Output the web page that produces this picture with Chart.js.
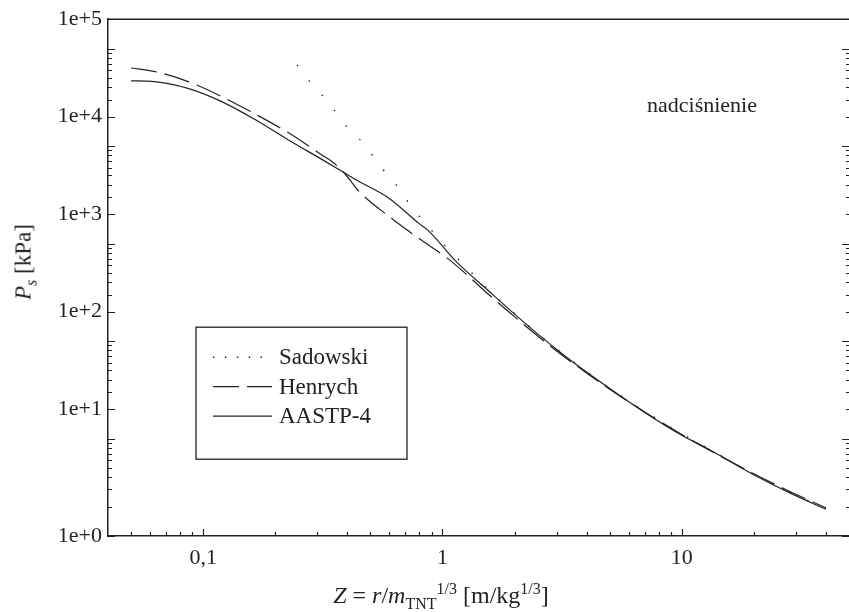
<!DOCTYPE html>
<html>
<head>
<meta charset="utf-8">
<title>Nadciśnienie</title>
<script src="https://cdn.jsdelivr.net/npm/chart.js@4.4.1/dist/chart.umd.min.js"></script>
<style>
  body { margin: 0; background: #fff; }
  #wrap { position: relative; width: 849px; height: 612px; font-family: "Liberation Serif", serif; color: #222; }
  #c { position: absolute; left: 0; top: 0; }
  .ax { position: absolute; white-space: nowrap; line-height: 1; }
  .ax sub, .ax sup { font-size: 16px; line-height: 0; }
  #xTitle { font-size: 24px; left: 441px; top: 595px; transform: translate(-50%, -50%); }
  #yTitle { font-size: 23px; left: 23px; top: 262px; transform: translate(-50%, -50%) rotate(-90deg); }
</style>
</head>
<body>
<div id="wrap">
  <canvas id="c" width="849" height="612"></canvas>
  <div id="xTitle" class="ax"><i>Z</i> = <i>r</i>/<i>m</i><sub>TNT</sub><sup>1/3</sup> [m/kg<sup>1/3</sup>]</div>
  <div id="yTitle" class="ax"><i>P<sub>s</sub></i> [kPa]</div>
</div>
<script>
// Z [m/kg^1/3] -> Ps [kPa]
const aastpZ = [0.05, 0.061, 0.087, 0.12, 0.166, 0.229, 0.313, 0.369, 0.435, 0.597, 0.796, 0.877, 1.136, 1.56, 2.23, 3, 4, 5, 7, 10, 13.3, 20, 28, 40];
const aastpP = [46600, 46000, 38800, 28400, 18500, 11400, 7300, 5750, 4500, 2920, 1610, 1340, 659, 326, 150, 82, 48, 32.5, 18.5, 10.8, 7.5, 4.25, 2.8, 1.88];

const henrychZ = [0.05, 0.064, 0.087, 0.12, 0.166, 0.229, 0.313, 0.345, 0.387, 0.448, 0.597, 0.796, 1.06, 1.3, 1.56, 2.23, 3, 4, 5, 7, 10, 13.3, 20, 28, 40];
const henrychP = [63200, 57500, 45500, 32000, 21100, 13500, 8110, 6930, 5350, 3420, 1900, 1130, 692, 450, 300, 142, 79, 47, 32, 18.7, 11, 7.4, 4.35, 2.9, 1.95];

const sadowskiZ = [0.247, 0.277, 0.313, 0.352, 0.395, 0.448, 0.507, 0.564, 0.638, 0.71, 0.796, 0.893, 1.01, 1.2, 1.56, 2.23, 3, 4, 5, 7, 10, 13.3, 20, 28, 40];
const sadowskiP = [67800, 46600, 33500, 23500, 16100, 11900, 8180, 5750, 4040, 2770, 1940, 1400, 984, 640, 335, 152, 83, 48.5, 32.8, 19, 11.2, 7.6, 4.3, 2.85, 1.92];

// tick labels (the y labels sit where the original figure put them)
const xLabelValues = [0.1, 1, 10];
const xLabelTexts = ['0,1', '1', '10'];
const yLabelValues = [1, 20, 200, 2000, 20000, 200000];
const yLabelTexts = ['1e+0', '1e+1', '1e+2', '1e+3', '1e+4', '1e+5'];
const xMinorTicks = [0.05, 0.06, 0.07, 0.08, 0.09, 0.2, 0.3, 0.4, 0.5, 0.6, 0.7, 0.8, 0.9,
                     2, 3, 4, 5, 6, 7, 8, 9, 20, 30, 40];

const ink = '#222';
const fontFam = '"Liberation Serif", serif';

function pts(zs, ps) {
    return zs.map((z, i) => ({ x: z, y: ps[i] }));
}

// every n*10^k on the y axis, for the small tick marks
let yMinorTicks = [];
for (let k = 0; k <= 5; k++) {
    for (let n = 1; n <= 9; n++) {
        const v = n * Math.pow(10, k);
        if (v <= 200000) yMinorTicks.push(v);
    }
}

const tickMarks = {
    id: 'tickMarks',
    afterDraw(chart) {
        const { ctx, chartArea: a, scales: { x, y } } = chart;
        ctx.save();
        ctx.strokeStyle = ink;
        ctx.lineWidth = 1.2;
        ctx.beginPath();
        xMinorTicks.concat(xLabelValues).forEach(v => {
            const px = Math.round(x.getPixelForValue(v)) + 0.5;
            const len = xLabelValues.includes(v) ? 7 : 4;
            ctx.moveTo(px, a.bottom);
            ctx.lineTo(px, a.bottom - len);
        });
        yMinorTicks.forEach(v => {
            const py = Math.round(y.getPixelForValue(v)) + 0.5;
            const decade = Math.abs(Math.log10(v) % 1) < 1e-9;
            const lenL = (decade || yLabelValues.includes(v)) ? 7 : 4;
            ctx.moveTo(a.left, py);
            ctx.lineTo(a.left + lenL, py);
            const lenR = decade ? 7 : 3;
            ctx.moveTo(a.right, py);
            ctx.lineTo(a.right - lenR, py);
        });
        ctx.stroke();
        // top edge of the frame
        ctx.lineWidth = 1.5;
        ctx.beginPath();
        ctx.moveTo(a.left, a.top);
        ctx.lineTo(a.right, a.top);
        ctx.stroke();
        ctx.restore();
    }
};

const legendDash = [[1.4, 10.5], [26, 8], []];

const boxLegend = {
    id: 'boxLegend',
    afterDraw(chart) {
        const { ctx, chartArea: a } = chart;
        const left = a.left + 88, top = a.top + 308, w = 211, h = 132;
        ctx.save();
        ctx.strokeStyle = ink;
        ctx.lineWidth = 1.3;
        ctx.strokeRect(left, top, w, h);
        ctx.font = '23px ' + fontFam;
        ctx.fillStyle = ink;
        ctx.textBaseline = 'middle';
        chart.data.datasets.forEach((ds, i) => {
            const yy = top + 30 + i * 29.5;
            ctx.setLineDash(legendDash[i]);
            ctx.lineWidth = ds.borderWidth;
            ctx.beginPath();
            ctx.moveTo(left + 17, yy);
            ctx.lineTo(left + 76, yy);
            ctx.stroke();
            ctx.setLineDash([]);
            ctx.fillText(ds.label, left + 83, yy + 1);
        });
        // note in the upper right
        ctx.textAlign = 'right';
        ctx.textBaseline = 'alphabetic';
        ctx.font = '22px ' + fontFam;
        ctx.fillText('nadciśnienie', a.left + 649, a.top + 93);
        ctx.restore();
    }
};

const chart = new Chart(document.getElementById('c'), {
    type: 'scatter',
    data: {
        datasets: [{
            label: 'Sadowski',
            data: pts(sadowskiZ, sadowskiP),
            borderColor: ink,
            borderWidth: 1.4,
            borderDash: [1.4, 18],
            showLine: true,
            pointRadius: 0,
            cubicInterpolationMode: 'monotone'
        }, {
            label: 'Henrych',
            data: pts(henrychZ, henrychP),
            borderColor: ink,
            borderWidth: 1.2,
            borderDash: [26, 8],
            showLine: true,
            pointRadius: 0,
            cubicInterpolationMode: 'monotone'
        }, {
            label: 'AASTP-4',
            data: pts(aastpZ, aastpP),
            borderColor: ink,
            borderWidth: 1.2,
            showLine: true,
            pointRadius: 0,
            cubicInterpolationMode: 'monotone'
        }]
    },
    options: {
        responsive: false,
        animation: false,
        layout: { padding: { left: 0, right: 0, top: 17, bottom: 0 } },
        scales: {
            x: {
                type: 'logarithmic',
                min: 0.04,
                max: 50,
                afterFit: s => { s.height = 76; },
                afterBuildTicks: s => { s.ticks = xLabelValues.map(v => ({ value: v })); },
                ticks: {
                    autoSkip: false,
                    maxRotation: 0,
                    padding: 9,
                    color: ink,
                    font: { family: fontFam, size: 22 },
                    callback: (v, i) => xLabelTexts[i]
                },
                grid: { display: true, drawOnChartArea: false, drawTicks: false },
                border: { display: true, color: ink, width: 1.5 }
            },
            y: {
                type: 'logarithmic',
                min: 1,
                max: 200000,
                afterFit: s => { s.width = 108; },
                afterBuildTicks: s => { s.ticks = yLabelValues.map(v => ({ value: v })); },
                ticks: {
                    autoSkip: false,
                    padding: 6,
                    color: ink,
                    font: { family: fontFam, size: 22 },
                    callback: (v, i) => yLabelTexts[i]
                },
                grid: { display: true, drawOnChartArea: false, drawTicks: false },
                border: { display: true, color: ink, width: 1.5 }
            }
        },
        plugins: {
            legend: { display: false },
            tooltip: { enabled: false }
        }
    },
    plugins: [tickMarks, boxLegend]
});
</script>
</body>
</html>
